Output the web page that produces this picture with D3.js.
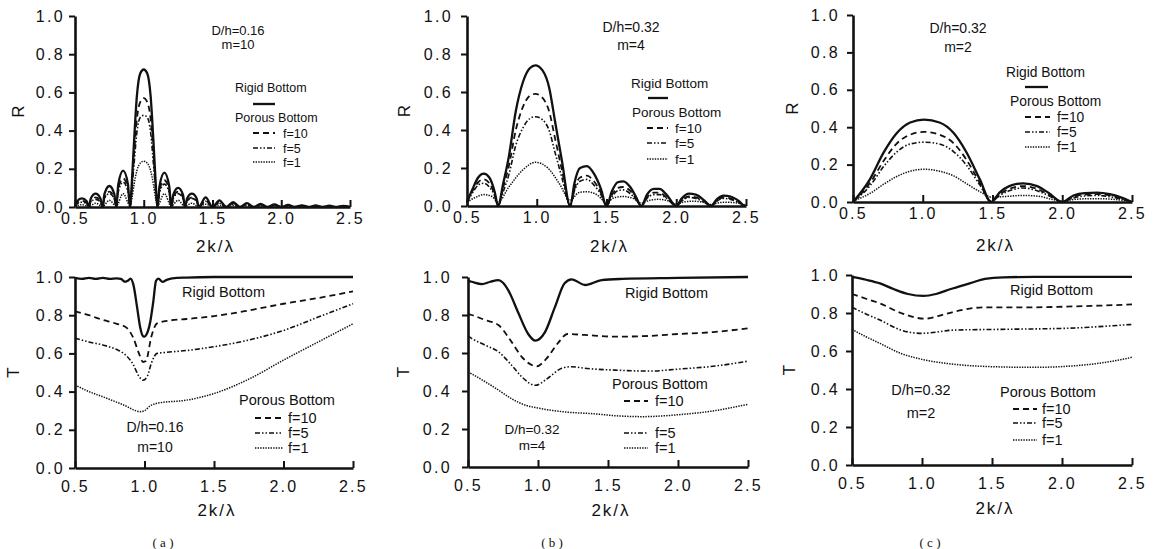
<!DOCTYPE html>
<html>
<head>
<meta charset="utf-8">
<script src="https://cdn.jsdelivr.net/npm/d3@7"></script>
<style>
body { margin: 0; background: #fff; }
svg { display: block; }
text { font-family: "Liberation Sans", Arial, sans-serif; fill: #111; }
</style>
</head>
<body>
<svg width="1153" height="549"></svg>
<script>
// tick values
var xTicks = [0.5, 1.0, 1.5, 2.0, 2.5];
var yTicks = [0.0, 0.2, 0.4, 0.6, 0.8, 1.0];
var seriesNames = ["Rigid Bottom", "f=10", "f=5", "f=1"];
var panelLetters = ["a", "b", "c"];

// (a) reflection R, D/h=0.16, m=10
var rA_rigid = [[0.5,0.005],[0.515,0.03],[0.55,0.045],[0.585,0.03],[0.6,0],
  [0.615,0.045],[0.65,0.07],[0.685,0.045],[0.7,0],
  [0.715,0.07],[0.75,0.11],[0.785,0.07],[0.8,0],
  [0.815,0.12],[0.85,0.19],[0.885,0.12],[0.9,0],
  [0.915,0.15],[0.93,0.35],[0.95,0.58],[0.975,0.7],[1.0,0.72],[1.025,0.7],[1.05,0.58],[1.07,0.35],[1.085,0.15],[1.1,0],
  [1.115,0.11],[1.15,0.18],[1.185,0.11],[1.2,0],
  [1.215,0.065],[1.25,0.10],[1.285,0.065],[1.3,0],
  [1.315,0.045],[1.35,0.07],[1.385,0.045],[1.4,0],
  [1.45,0.05],[1.5,0],[1.55,0.035],[1.6,0],[1.65,0.026],[1.7,0],[1.75,0.02],[1.8,0],[1.85,0.016],[1.9,0],
  [1.95,0.013],[2.0,0],[2.05,0.011],[2.1,0],[2.15,0.009],[2.2,0],[2.25,0.008],[2.3,0],[2.35,0.007],[2.4,0],[2.45,0.006],[2.5,0]];
var rA_f10 = [[0.5,0.004],[0.515,0.02],[0.55,0.032],[0.585,0.02],[0.6,0],
  [0.615,0.032],[0.65,0.05],[0.685,0.032],[0.7,0],
  [0.715,0.05],[0.75,0.08],[0.785,0.05],[0.8,0],
  [0.815,0.095],[0.85,0.15],[0.885,0.095],[0.9,0],
  [0.915,0.12],[0.93,0.28],[0.95,0.46],[0.975,0.55],[1.0,0.57],[1.025,0.55],[1.05,0.46],[1.07,0.28],[1.085,0.12],[1.1,0],
  [1.115,0.09],[1.15,0.14],[1.185,0.09],[1.2,0],
  [1.215,0.05],[1.25,0.08],[1.285,0.05],[1.3,0],
  [1.315,0.032],[1.35,0.05],[1.385,0.032],[1.4,0],
  [1.45,0.035],[1.5,0],[1.55,0.025],[1.6,0],[1.65,0.02],[1.7,0],[1.75,0.015],[1.8,0],[1.85,0.012],[1.9,0],
  [1.95,0.01],[2.0,0],[2.05,0.008],[2.1,0],[2.15,0.007],[2.2,0],[2.25,0.006],[2.3,0],[2.35,0.005],[2.4,0],[2.45,0.005],[2.5,0]];
var rA_f5 = [[0.5,0.003],[0.515,0.016],[0.55,0.025],[0.585,0.016],[0.6,0],
  [0.615,0.026],[0.65,0.04],[0.685,0.026],[0.7,0],
  [0.715,0.045],[0.75,0.07],[0.785,0.045],[0.8,0],
  [0.815,0.08],[0.85,0.13],[0.885,0.08],[0.9,0],
  [0.915,0.1],[0.93,0.23],[0.95,0.39],[0.975,0.47],[1.0,0.48],[1.025,0.47],[1.05,0.39],[1.07,0.23],[1.085,0.1],[1.1,0],
  [1.115,0.075],[1.15,0.12],[1.185,0.075],[1.2,0],
  [1.215,0.045],[1.25,0.07],[1.285,0.045],[1.3,0],
  [1.315,0.03],[1.35,0.045],[1.385,0.03],[1.4,0],
  [1.45,0.03],[1.5,0],[1.55,0.02],[1.6,0],[1.65,0.015],[1.7,0],[1.75,0.012],[1.8,0],[1.85,0.01],[1.9,0],
  [1.95,0.008],[2.0,0],[2.05,0.007],[2.1,0],[2.15,0.006],[2.2,0],[2.25,0.005],[2.3,0],[2.35,0.004],[2.4,0],[2.45,0.004],[2.5,0]];
var rA_f1 = [[0.5,0.003],[0.55,0.012],[0.6,0.002],[0.65,0.02],[0.7,0.003],[0.75,0.035],[0.8,0.005],
  [0.85,0.07],[0.9,0.008],
  [0.915,0.05],[0.93,0.12],[0.95,0.19],[0.975,0.23],[1.0,0.24],[1.025,0.23],[1.05,0.19],[1.07,0.12],[1.085,0.05],[1.1,0.008],
  [1.15,0.07],[1.2,0.005],[1.25,0.035],[1.3,0.003],[1.35,0.02],[1.4,0.002],[1.45,0.015],[1.5,0.002],
  [1.55,0.01],[1.6,0],[1.65,0.008],[1.7,0],[1.75,0.006],[1.8,0],[1.85,0.005],[1.9,0],[1.95,0.004],[2.0,0],
  [2.1,0.003],[2.2,0],[2.3,0.003],[2.4,0],[2.45,0.002],[2.5,0]];

// (b) reflection R, D/h=0.32, m=4
var rB_rigid = [[0.5,0.02],[0.54,0.09],[0.58,0.15],[0.62,0.17],[0.66,0.15],[0.70,0.07],[0.722,0],
  [0.76,0.12],[0.8,0.26],[0.85,0.5],[0.9,0.65],[0.95,0.725],[0.99,0.74],[1.04,0.715],[1.09,0.62],[1.13,0.45],[1.18,0.24],[1.24,0],
  [1.27,0.12],[1.31,0.2],[1.36,0.21],[1.41,0.17],[1.46,0.09],[1.5,0],
  [1.54,0.08],[1.58,0.125],[1.62,0.13],[1.67,0.1],[1.71,0.05],[1.75,0],
  [1.79,0.06],[1.84,0.09],[1.88,0.09],[1.93,0.06],[2.0,0],
  [2.04,0.04],[2.09,0.065],[2.14,0.06],[2.2,0.03],[2.25,0],
  [2.29,0.035],[2.34,0.055],[2.39,0.05],[2.45,0.025],[2.49,0],[2.5,0.005]];
var rB_f10 = [[0.5,0.02],[0.54,0.08],[0.58,0.125],[0.62,0.14],[0.66,0.12],[0.70,0.055],[0.722,0],
  [0.76,0.1],[0.8,0.21],[0.85,0.4],[0.9,0.52],[0.95,0.58],[0.99,0.59],[1.04,0.57],[1.09,0.495],[1.13,0.36],[1.18,0.19],[1.24,0],
  [1.27,0.09],[1.31,0.15],[1.36,0.16],[1.41,0.13],[1.46,0.07],[1.5,0],
  [1.54,0.06],[1.58,0.095],[1.62,0.1],[1.67,0.08],[1.71,0.04],[1.75,0],
  [1.79,0.045],[1.84,0.07],[1.88,0.07],[1.93,0.045],[2.0,0],
  [2.04,0.03],[2.09,0.05],[2.14,0.045],[2.2,0.025],[2.25,0],
  [2.29,0.028],[2.34,0.045],[2.39,0.04],[2.45,0.02],[2.49,0],[2.5,0.005]];
var rB_f5 = [[0.5,0.02],[0.54,0.07],[0.58,0.11],[0.62,0.12],[0.66,0.1],[0.70,0.05],[0.722,0],
  [0.76,0.076],[0.8,0.165],[0.85,0.32],[0.9,0.41],[0.95,0.46],[0.99,0.47],[1.04,0.455],[1.09,0.395],[1.13,0.285],[1.18,0.15],[1.24,0],
  [1.27,0.08],[1.31,0.13],[1.36,0.14],[1.41,0.11],[1.46,0.06],[1.5,0],
  [1.54,0.05],[1.58,0.08],[1.62,0.085],[1.67,0.065],[1.71,0.035],[1.75,0],
  [1.79,0.04],[1.84,0.06],[1.88,0.06],[1.93,0.04],[2.0,0],
  [2.04,0.027],[2.09,0.045],[2.14,0.04],[2.2,0.02],[2.25,0],
  [2.29,0.025],[2.34,0.04],[2.39,0.035],[2.45,0.018],[2.49,0],[2.5,0.004]];
var rB_f1 = [[0.5,0.02],[0.56,0.045],[0.62,0.06],[0.68,0.05],[0.722,0.02],[0.8,0.1],[0.9,0.19],[0.99,0.23],[1.08,0.2],
  [1.16,0.12],[1.24,0.03],[1.3,0.07],[1.36,0.075],[1.43,0.06],[1.5,0.02],[1.56,0.045],[1.62,0.05],[1.69,0.04],
  [1.75,0.015],[1.81,0.03],[1.87,0.035],[1.94,0.028],[2.0,0.01],[2.06,0.022],[2.12,0.025],[2.19,0.02],[2.25,0.008],
  [2.31,0.018],[2.37,0.02],[2.44,0.015],[2.5,0.005]];

// (c) reflection R, D/h=0.32, m=2
var rC_rigid = [[0.5,0],[0.62,0.12],[0.72,0.265],[0.81,0.365],[0.91,0.425],[1.01,0.44],[1.12,0.425],[1.22,0.37],
  [1.31,0.27],[1.41,0.12],[1.49,0],[1.55,0.05],[1.62,0.085],[1.72,0.1],[1.82,0.085],[1.9,0.05],[2.0,0],
  [2.08,0.035],[2.16,0.048],[2.25,0.05],[2.34,0.042],[2.42,0.025],[2.5,0]];
var rC_f10 = [[0.5,0],[0.62,0.1],[0.72,0.22],[0.81,0.31],[0.91,0.36],[1.01,0.375],[1.12,0.36],[1.22,0.315],
  [1.31,0.23],[1.41,0.1],[1.49,0],[1.55,0.04],[1.62,0.07],[1.72,0.085],[1.82,0.07],[1.9,0.04],[2.0,0],
  [2.08,0.028],[2.16,0.04],[2.25,0.042],[2.34,0.035],[2.42,0.02],[2.5,0]];
var rC_f5 = [[0.5,0],[0.62,0.085],[0.72,0.19],[0.81,0.265],[0.91,0.31],[1.01,0.32],[1.12,0.31],[1.22,0.27],
  [1.31,0.2],[1.41,0.09],[1.49,0.005],[1.55,0.035],[1.62,0.06],[1.72,0.075],[1.82,0.06],[1.9,0.035],[2.0,0],
  [2.08,0.022],[2.16,0.032],[2.25,0.035],[2.34,0.028],[2.42,0.016],[2.5,0]];
var rC_f1 = [[0.5,0.005],[0.62,0.045],[0.72,0.095],[0.81,0.135],[0.91,0.165],[1.01,0.175],[1.12,0.165],[1.22,0.14],
  [1.31,0.1],[1.41,0.055],[1.5,0.025],[1.6,0.03],[1.72,0.035],[1.84,0.03],[1.92,0.015],[2.0,0.005],
  [2.1,0.015],[2.25,0.018],[2.4,0.012],[2.5,0.002]];

// (a) transmission T
var tA_rigid = [[0.5,0.995],[0.55,0.99],[0.6,0.995],[0.65,0.99],[0.7,0.995],[0.75,0.99],[0.8,0.993],[0.83,0.99],
  [0.86,0.975],[0.88,0.98],[0.9,0.992],[0.92,0.96],[0.946,0.845],[0.968,0.74],[0.99,0.69],[1.0,0.688],[1.015,0.7],
  [1.04,0.76],[1.063,0.87],[1.083,0.98],[1.1,0.992],[1.13,0.975],[1.16,0.985],[1.2,0.993],[1.3,0.997],[1.5,1.0],[2.0,1.0],[2.5,1.0]];
var tA_f10 = [[0.5,0.82],[0.6,0.8],[0.7,0.775],[0.8,0.755],[0.87,0.735],[0.92,0.68],[0.96,0.6],[0.99,0.555],[1.01,0.56],
  [1.05,0.69],[1.09,0.757],[1.18,0.772],[1.3,0.78],[1.5,0.795],[1.75,0.825],[2.0,0.86],[2.25,0.89],[2.5,0.925]];
var tA_f5 = [[0.5,0.68],[0.6,0.66],[0.7,0.644],[0.8,0.62],[0.85,0.6],[0.92,0.54],[0.96,0.48],[0.99,0.46],[1.02,0.48],
  [1.05,0.55],[1.09,0.6],[1.15,0.605],[1.3,0.615],[1.5,0.635],[1.75,0.67],[2.0,0.72],[2.25,0.79],[2.5,0.86]];
var tA_f1 = [[0.5,0.435],[0.6,0.4],[0.7,0.373],[0.85,0.33],[0.97,0.295],[1.0,0.3],[1.04,0.325],[1.1,0.34],[1.3,0.355],
  [1.5,0.39],[1.75,0.465],[2.0,0.565],[2.25,0.66],[2.5,0.755]];

// (b) transmission T
var tB_rigid = [[0.5,0.98],[0.526,0.975],[0.6,0.963],[0.66,0.975],[0.717,0.984],[0.75,0.97],[0.788,0.93],[0.86,0.81],
  [0.93,0.7],[0.98,0.665],[1.05,0.71],[1.12,0.84],[1.19,0.967],[1.24,0.988],[1.336,0.958],[1.455,0.984],[1.6,0.99],
  [2.0,0.995],[2.5,1.0]];
var tB_f10 = [[0.5,0.805],[0.526,0.8],[0.62,0.774],[0.717,0.747],[0.81,0.66],[0.884,0.58],[0.955,0.537],[0.99,0.53],
  [1.06,0.57],[1.14,0.65],[1.21,0.70],[1.33,0.695],[1.55,0.686],[1.8,0.69],[2.0,0.70],[2.25,0.71],[2.5,0.73]];
var tB_f5 = [[0.5,0.69],[0.526,0.677],[0.62,0.642],[0.717,0.607],[0.81,0.537],[0.884,0.475],[0.98,0.43],[1.07,0.467],
  [1.17,0.52],[1.24,0.528],[1.33,0.52],[1.55,0.51],[1.8,0.505],[2.0,0.515],[2.25,0.53],[2.5,0.557]];
var tB_f1 = [[0.5,0.5],[0.526,0.49],[0.62,0.45],[0.717,0.405],[0.81,0.36],[0.907,0.326],[1.0,0.31],[1.19,0.29],
  [1.4,0.28],[1.55,0.27],[1.75,0.265],[2.0,0.275],[2.25,0.295],[2.5,0.33]];

// (c) transmission T
var tC_rigid = [[0.5,0.99],[0.6,0.975],[0.7,0.956],[0.8,0.925],[0.9,0.9],[1.01,0.89],[1.1,0.9],[1.2,0.925],[1.34,0.956],
  [1.45,0.98],[1.58,0.988],[1.8,0.99],[2.0,0.99],[2.5,0.99]];
var tC_f10 = [[0.5,0.9],[0.6,0.875],[0.7,0.85],[0.85,0.8],[1.02,0.77],[1.12,0.785],[1.23,0.807],[1.45,0.83],[1.79,0.83],
  [2.1,0.835],[2.5,0.845]];
var tC_f5 = [[0.5,0.83],[0.6,0.795],[0.7,0.763],[0.85,0.71],[1.0,0.693],[1.23,0.71],[1.57,0.714],[2.05,0.72],[2.3,0.73],[2.5,0.74]];
var tC_f1 = [[0.5,0.714],[0.6,0.675],[0.7,0.64],[0.85,0.587],[1.0,0.556],[1.23,0.53],[1.52,0.517],[1.8,0.514],
  [2.15,0.526],[2.35,0.545],[2.5,0.567]];

// line styles for rigid, f=10, f=5, f=1
var styles = [
  { dash: null, width: 2.3 },
  { dash: "6,4", width: 1.8 },
  { dash: "5,2,1.5,2,1.5,2", width: 1.6 },
  { dash: "1.4,1.2", width: 1.5 }
];

var svg = d3.select("svg");

// panel layout: plot box, axis titles, annotation text, legend positions
var panels = [
  { series: [rA_rigid, rA_f10, rA_f5, rA_f1], yName: "R", x0: 75, x1: 350, y0: 207, y1: 16,
    pad: 6, ypad: 4, xTitleY: 252, yTitleX: 18,
    note: { x: 238, y: 35, size: 13, lines: ["D/h=0.16", "m=10"], gap: 14 },
    legend: { size: 12.5, rigidX: 235, rigidY: 92, rigidLine: [253, 275, 104], porousX: 235, porousY: 122,
      sx: [253, 275], lx: 283, rows: [133, 148, 162] } },
  { series: [rB_rigid, rB_f10, rB_f5, rB_f1], yName: "R", x0: 467, x1: 746, y0: 206, y1: 16,
    pad: 6, ypad: 8, xTitleY: 252, yTitleX: 404,
    note: { x: 631, y: 32, size: 14, lines: ["D/h=0.32", "m=4"], gap: 18 },
    legend: { size: 13.5, rigidX: 631, rigidY: 88, rigidLine: [648, 668, 98], porousX: 632, porousY: 117,
      sx: [647, 668], lx: 675, rows: [128, 143, 159] } },
  { series: [rC_rigid, rC_f10, rC_f5, rC_f1], yName: "R", x0: 853, x1: 1132, y0: 202, y1: 15,
    pad: 6, ypad: 7, xTitleY: 251, yTitleX: 792,
    note: { x: 958, y: 33, size: 14, lines: ["D/h=0.32", "m=2"], gap: 19 },
    legend: { size: 13.8, rigidX: 1006, rigidY: 77, rigidLine: [1025, 1048, 87], porousX: 1010, porousY: 106,
      sx: [1025, 1050], lx: 1057, rows: [117, 132, 147] } },
  { series: [tA_rigid, tA_f10, tA_f5, tA_f1], yName: "T", x0: 75, x1: 353, y0: 468, y1: 277,
    pad: 13, ypad: 4, xTitleY: 516, yTitleX: 13, letter: 0, letterX: 163,
    note: { x: 155, y: 432, size: 14, lines: ["D/h=0.16", "m=10"], gap: 20 },
    legend: { size: 14.5, rigidX: 182, rigidY: 297, rigidLine: null, porousX: 239, porousY: 405,
      sx: [255, 283], lx: 288, rows: [418, 433, 448] } },
  { series: [tB_rigid, tB_f10, tB_f5, tB_f1], yName: "T", x0: 468, x1: 748, y0: 467, y1: 277,
    pad: 13, ypad: 10, xTitleY: 516, yTitleX: 403, letter: 1, letterX: 552,
    note: { x: 532, y: 434, size: 13.5, lines: ["D/h=0.32", "m=4"], gap: 15.5 },
    legend: { size: 14.5, rigidX: 625, rigidY: 298, rigidLine: null, porousX: 612, porousY: 389,
      sx: [624, 648], lx: 655, rows: [401, 433, 448] } },
  { series: [tC_rigid, tC_f10, tC_f5, tC_f1], yName: "T", x0: 852, x1: 1132, y0: 465, y1: 275,
    pad: 13, ypad: 6, xTitleY: 514, yTitleX: 789, letter: 2, letterX: 930,
    note: { x: 921, y: 395, size: 14.5, lines: ["D/h=0.32", "m=2"], gap: 23 },
    legend: { size: 14.5, rigidX: 1010, rigidY: 295, rigidLine: null, porousX: 1000, porousY: 397,
      sx: [1013, 1037], lx: 1042, rows: [409, 423, 440] } }
];

panels.forEach(drawPanel);

function drawPanel(p) {
  var x = d3.scaleLinear().domain([0.5, 2.5]).range([p.x0, p.x1]);
  var y = d3.scaleLinear().domain([0, 1]).range([p.y0, p.y1]);
  var g = svg.append("g");

  var line = d3.line()
    .x(function (d) { return x(d[0]); })
    .y(function (d) { return y(d[1]); })
    .curve(d3.curveMonotoneX);

  g.selectAll("path.curve")
    .data(p.series)
    .enter().append("path")
    .attr("class", "curve")
    .attr("d", line)
    .attr("fill", "none")
    .attr("stroke", "#111")
    .attr("stroke-width", function (d, i) { return styles[i].width; })
    .attr("stroke-dasharray", function (d, i) { return styles[i].dash; });

  var xAxis = g.append("g")
    .attr("transform", "translate(0," + p.y0 + ")")
    .call(d3.axisBottom(x).tickValues(xTicks).tickSizeInner(-7).tickSizeOuter(0)
      .tickPadding(p.pad).tickFormat(d3.format(".1f")));
  var yAxis = g.append("g")
    .attr("transform", "translate(" + p.x0 + ",0)")
    .call(d3.axisLeft(y).tickValues(yTicks).tickSizeInner(6).tickSizeOuter(0)
      .tickPadding(p.ypad).tickFormat(d3.format(".1f")));

  [xAxis, yAxis].forEach(function (a) {
    a.select(".domain").attr("stroke", "#111").attr("stroke-width", 2.6);
    a.selectAll(".tick line").attr("stroke", "#111").attr("stroke-width", 2);
    a.selectAll(".tick text")
      .style("font-family", "Liberation Sans, Arial, sans-serif")
      .style("font-size", "16px")
      .style("letter-spacing", "2.3px")
      .attr("fill", "#111");
  });

  g.append("text")
    .attr("x", (p.x0 + p.x1) / 2 + 3)
    .attr("y", p.xTitleY)
    .attr("text-anchor", "middle")
    .style("font-size", "17px")
    .style("letter-spacing", "2px")
    .text("2k/\u03bb");

  g.append("text")
    .attr("transform", "translate(" + p.yTitleX + "," + y(0.5) + ") rotate(-90)")
    .attr("text-anchor", "middle")
    .attr("dy", "0.35em")
    .style("font-size", "17px")
    .text(p.yName);

  if (p.letter !== undefined) {
    g.append("text")
      .attr("x", p.letterX)
      .attr("y", 547)
      .attr("text-anchor", "middle")
      .style("font-family", "Liberation Serif, serif")
      .style("font-size", "13px")
      .text("( " + panelLetters[p.letter] + " )");
  }

  // annotation
  p.note.lines.forEach(function (t, i) {
    g.append("text")
      .attr("x", p.note.x)
      .attr("y", p.note.y + i * p.note.gap)
      .attr("text-anchor", "middle")
      .style("font-size", p.note.size + "px")
      .text(t);
  });

  // legend
  var L = p.legend;
  g.append("text").attr("x", L.rigidX).attr("y", L.rigidY)
    .style("font-size", L.size + "px").text(seriesNames[0]);
  if (L.rigidLine) {
    g.append("line")
      .attr("x1", L.rigidLine[0]).attr("x2", L.rigidLine[1])
      .attr("y1", L.rigidLine[2]).attr("y2", L.rigidLine[2])
      .attr("stroke", "#111").attr("stroke-width", styles[0].width);
  }
  g.append("text").attr("x", L.porousX).attr("y", L.porousY)
    .style("font-size", L.size + "px").text("Porous Bottom");
  L.rows.forEach(function (ry, i) {
    var s = styles[i + 1];
    g.append("line")
      .attr("x1", L.sx[0]).attr("x2", L.sx[1])
      .attr("y1", ry).attr("y2", ry)
      .attr("stroke", "#111").attr("stroke-width", s.width)
      .attr("stroke-dasharray", s.dash);
    g.append("text").attr("x", L.lx).attr("y", ry)
      .attr("dy", "0.36em")
      .style("font-size", L.size + "px").text(seriesNames[i + 1]);
  });
}
</script>
</body>
</html>
